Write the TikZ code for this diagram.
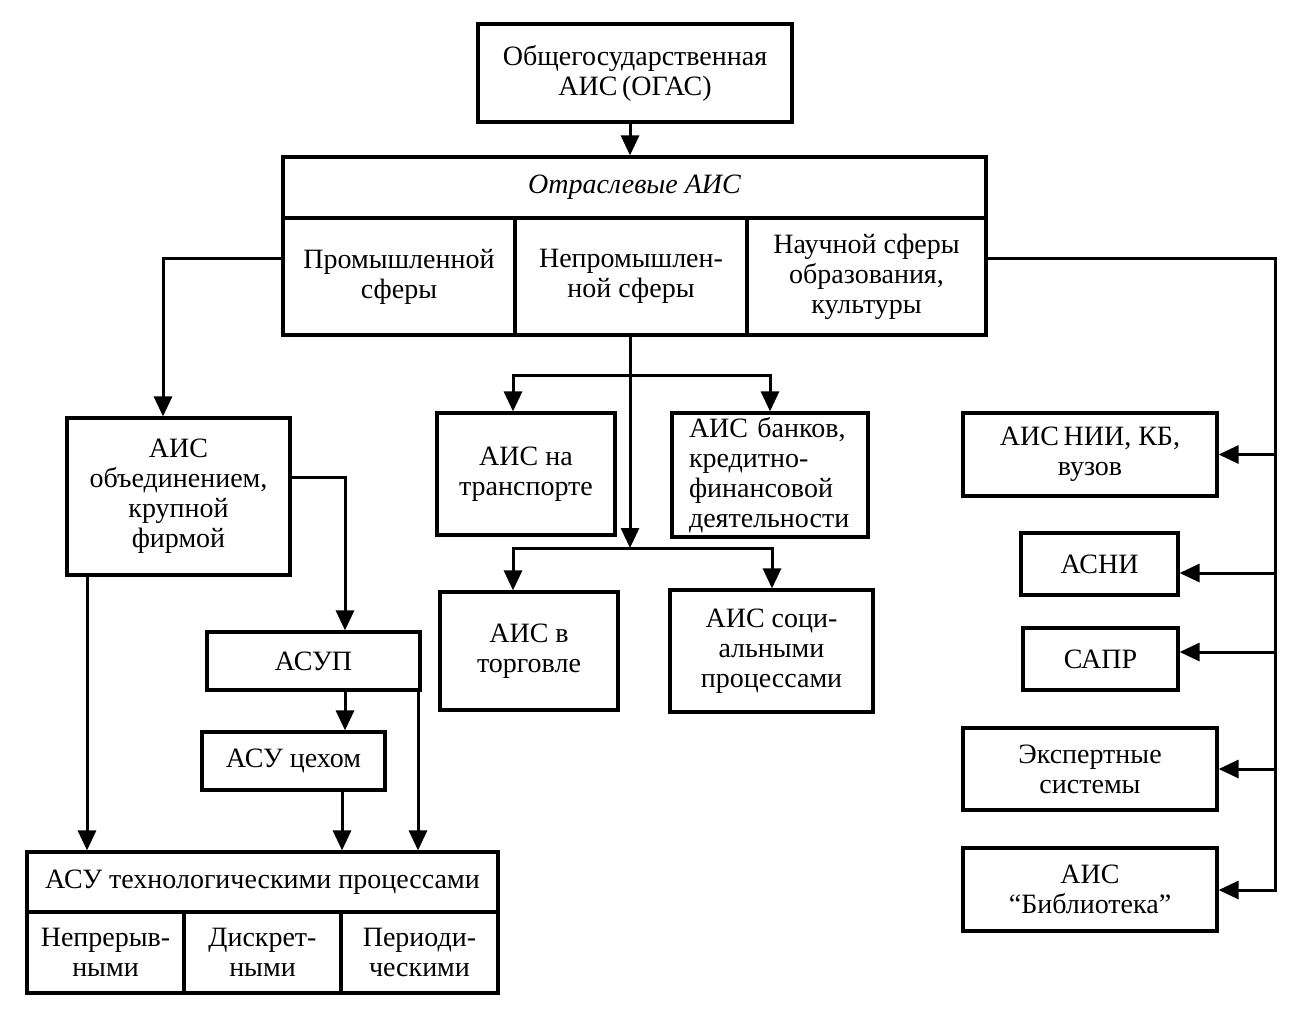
\documentclass[tikz,border=0pt]{standalone}
\usepackage{fontspec}
\setmainfont{Liberation Serif}
\usetikzlibrary{arrows.meta}
\begin{document}
\begin{tikzpicture}[x=0.5pt,y=-0.5pt,
  box/.style={draw, line width=1.6pt, inner sep=2pt, align=center,
    font=\fontsize{14}{15}\selectfont},
  arr/.style={line width=1.5pt, -{Triangle[length=10pt,width=9pt]}},
  darr/.style={line width=1.5pt, {Triangle[length=10pt,width=9pt]}-{Triangle[length=10pt,width=9pt]}},
  ln/.style={line width=1.5pt}]
\useasboundingbox (0,0) rectangle (1300,1012);
% top
\node[box, minimum width=157pt, minimum height=49pt] (ogas) at (635,73) {Общегосударственная\\АИС\,(ОГАС)};
\node[box, minimum width=351.5pt, minimum height=30.5pt] (otr) at (634.5,187.5) {\itshape Отраслевые АИС};
\node[box, minimum width=116pt, minimum height=58.5pt] (prom) at (399,276.5) {Промышленной\\сферы};
\node[box, minimum width=116pt, minimum height=58.5pt] (neprom) at (631,276.5) {Непромышлен-\\ной сферы};
\node[box, minimum width=119.5pt, minimum height=58.5pt] (nauch) at (866.5,276.5) {Научной сферы\\образования,\\культуры};
% left branch
\node[box, minimum width=111.5pt, minimum height=78.5pt] (obj) at (178.5,496.5) {АИС\\объединением,\\крупной\\фирмой};
\node[box, minimum width=106.5pt, minimum height=29pt] (asup) at (313.5,661) {АСУП};
\node[box, minimum width=91.5pt, minimum height=29pt] (ceh) at (293.5,761) {АСУ цехом};
\node[box, minimum width=235.5pt, minimum height=30pt] (tech) at (262.5,882) {АСУ технологическими процессами};
\node[box, minimum width=78.5pt, minimum height=40.5pt] (c1) at (105.5,952.5) {Непрерыв-\\ными};
\node[box, minimum width=78.5pt, minimum height=40.5pt] (c2) at (262.5,952.5) {Дискрет-\\ными};
\node[box, minimum width=78.5pt, minimum height=40.5pt] (c3) at (419.5,952.5) {Периоди-\\ческими};
% middle branch
\node[box, minimum width=89pt, minimum height=61pt] (trans) at (526,474) {АИС на\\транспорте};
\node[box, minimum width=98pt, minimum height=62pt, align=left, text width=81pt] (bank) at (770,475) {АИС банков,\\кредитно-\\финансовой\\деятельности};
\node[box, minimum width=89pt, minimum height=59pt] (torg) at (529,651) {АИС в\\торговле};
\node[box, minimum width=101.5pt, minimum height=61pt] (soc) at (771.5,651) {АИС соци-\\альными\\процессами};
% right branch
\node[box, minimum width=127pt, minimum height=41.5pt] (nii) at (1090,454.5) {АИС\,НИИ, КБ,\\вузов};
\node[box, minimum width=78.5pt, minimum height=31pt] (asni) at (1099.5,564) {АСНИ};
\node[box, minimum width=77.5pt, minimum height=31pt] (sapr) at (1100.5,659) {САПР};
\node[box, minimum width=127pt, minimum height=41pt] (exp) at (1090,769) {Экспертные\\системы};
\node[box, minimum width=127pt, minimum height=41.5pt] (bib) at (1090,889.5) {АИС\\“Библиотека”};
% junction points
\coordinate (jl) at (163,258);
\coordinate (jr) at (1275,258);
\coordinate (jrb) at (1275,890);
\coordinate (ct) at (630,375);
\coordinate (cb) at (630,548);
\coordinate (tl) at (513,375);
\coordinate (tr) at (770,375);
\coordinate (bl) at (513,548);
\coordinate (br) at (772,548);
\coordinate (ja) at (345,477);
\coordinate (xb) at (87,0);
\coordinate (xc) at (342,0);
\coordinate (xd) at (418,0);
% connectors
\draw[arr] (ogas.south -| 630,0) -- (otr.north -| 630,0);
\draw[arr] (prom.west |- jl) -- (jl) -- (jl |- obj.north);
\draw[arr] (nauch.east |- jr) -- (jr) -- (jrb) -- (bib.east |- jrb);
\draw[arr] (jr |- nii.east) -- (nii.east);
\draw[arr] ([yshift=-4.5pt]asni.east -| jr) -- ([yshift=-4.5pt]asni.east);
\draw[arr] ([yshift=3.5pt]sapr.east -| jr) -- ([yshift=3.5pt]sapr.east);
\draw[arr] (jr |- exp.east) -- (exp.east);
\draw[arr] (neprom.south -| ct) -- (cb);
\draw[darr] (trans.north -| tl) -- (tl) -- (tr) -- (bank.north -| tr);
\draw[darr] (torg.north -| bl) -- (bl) -- (br) -- (soc.north -| br);
\draw[arr] (obj.east |- ja) -- (ja) -- (ja |- asup.north);
\draw[arr] (obj.south -| xb) -- (tech.north -| xb);
\draw[arr] (asup.south -| ja) -- (ceh.north -| ja);
\draw[arr] (ceh.south -| xc) -- (tech.north -| xc);
\draw[arr] (asup.south -| xd) -- (tech.north -| xd);
\end{tikzpicture}
\end{document}
